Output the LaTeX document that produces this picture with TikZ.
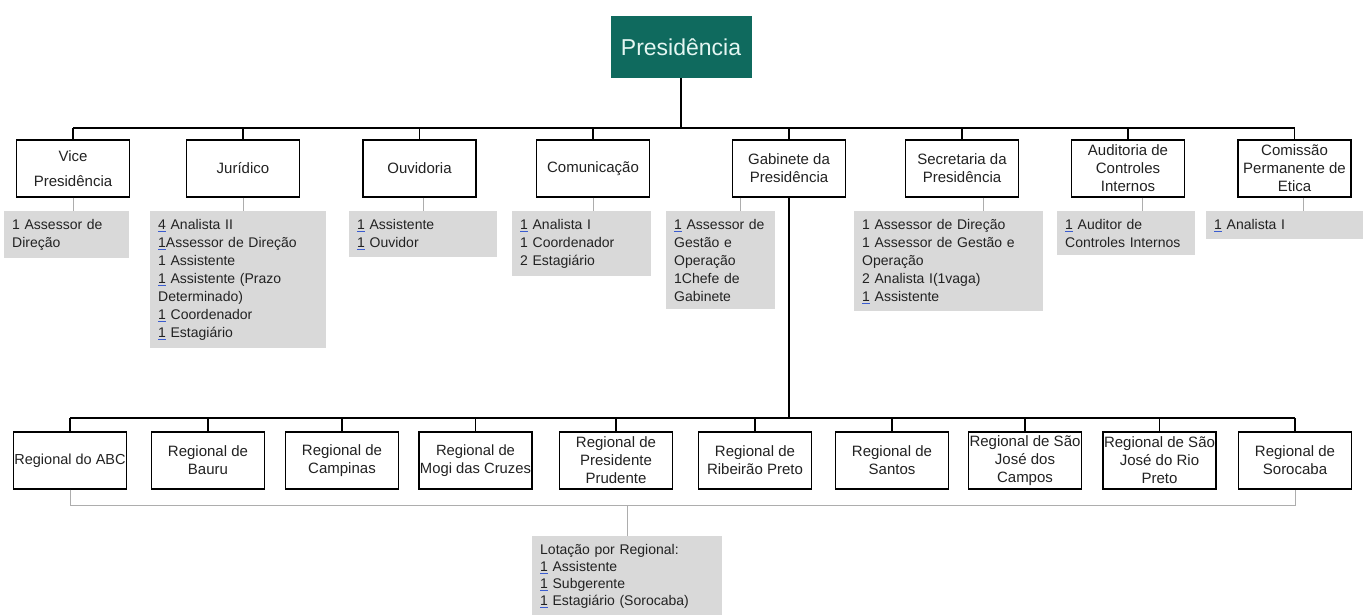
\documentclass[tikz,border=0pt]{standalone}
\usepackage{fontspec}
\setmainfont{Liberation Sans}
\usepackage{xcolor}
\usetikzlibrary{calc}
\definecolor{presteal}{HTML}{0F6A5E}
\definecolor{prestext}{HTML}{E4F6F2}
\definecolor{notegray}{HTML}{D9D9D9}
\definecolor{linegray}{HTML}{ADADAD}
\definecolor{inkdark}{HTML}{222222}
\definecolor{markblue}{HTML}{3A5CD0}
\newcommand{\flagged}[1]{\textcolor{markblue}{\underline{\textcolor{inkdark}{#1}}}}

\tikzset{
  unitbox/.style={draw=black,line width=1.4pt,fill=white,minimum width=113pt,minimum height=57pt,
    inner sep=1pt,align=center,text=inkdark,font=\fontsize{15}{18}\selectfont},
  notebox/.style={fill=notegray,anchor=north west,inner xsep=8pt,inner ysep=8pt,align=left,
    text=inkdark,font=\fontsize{14}{18}\selectfont},
  busline/.style={draw=black,line width=1.6pt},
  noteline/.style={draw=linegray,line width=0.9pt},
}

\begin{document}
\begin{tikzpicture}[x=1pt,y=-1pt]
  \useasboundingbox[fill=white] (0,0) rectangle (1363,615);

  \node[fill=presteal,minimum width=141pt,minimum height=62pt,text=prestext,
        font=\fontsize{23}{26}\selectfont] (pres) at (681,47) {Presidência};

  \coordinate (topbus) at (0,128);
  \coordinate (lowbus) at (0,418);
  \coordinate (graybus) at (0,505);

  % first level
  \node[unitbox] (vice)  at (73,168.5)    {Vice\\[7pt]Presidência};
  \node[unitbox] (jur)   at (243,168.5)   {Jurídico};
  \node[unitbox] (ouv)   at (419.5,168.5) {Ouvidoria};
  \node[unitbox] (com)   at (593,168.5)   {Comunicação};
  \node[unitbox] (gab)   at (789,168.5)   {Gabinete da\\Presidência};
  \node[unitbox] (sec)   at (962,168.5)   {Secretaria da\\Presidência};
  \node[unitbox] (aud)   at (1128,168.5)  {Auditoria de\\Controles\\Internos};
  \node[unitbox] (comis) at (1294.5,168.5){Comissão\\Permanente de\\Etica};

  % staff notes
  \node[notebox,text width=109pt] (vice-note) at (4,211)
    {1 Assessor de\\Direção};
  \node[notebox,text width=160pt] (jur-note) at (150,211)
    {\flagged{4} Analista II\\\flagged{1}Assessor de Direção\\1 Assistente\\
     \flagged{1} Assistente (Prazo\\Determinado)\\\flagged{1} Coordenador\\\flagged{1} Estagiário};
  \node[notebox,text width=132pt] (ouv-note) at (349,211)
    {\flagged{1} Assistente\\\flagged{1} Ouvidor};
  \node[notebox,text width=123pt] (com-note) at (512,211)
    {\flagged{1} Analista I\\1 Coordenador\\2 Estagiário};
  \node[notebox,text width=93pt] (gab-note) at (666,211)
    {\flagged{1} Assessor de\\Gestão e\\Operação\\1Chefe de\\Gabinete};
  \node[notebox,text width=173pt] (sec-note) at (854,211)
    {1 Assessor de Direção\\1 Assessor de Gestão e\\Operação\\2 Analista I(1vaga)\\\flagged{1} Assistente};
  \node[notebox,text width=122pt] (aud-note) at (1057,211)
    {\flagged{1} Auditor de\\Controles Internos};
  \node[notebox,text width=141pt] (comis-note) at (1206,211)
    {\flagged{1} Analista I};

  % regionals
  \node[unitbox,font=\fontsize{14.5}{18}\selectfont] (abc) at (70,460.5) {Regional do ABC};
  \node[unitbox] (bauru)  at (208,460.5)   {Regional de\\Bauru};
  \node[unitbox] (camp)   at (342,460.5)   {Regional de\\Campinas};
  \node[unitbox,font=\fontsize{14.8}{18}\selectfont] (mogi) at (475.5,460.5) {Regional de\\Mogi das Cruzes};
  \node[unitbox] (prud)   at (616,460.5)   {Regional de\\Presidente\\Prudente};
  \node[unitbox] (ribp)   at (755,460.5)   {Regional de\\Ribeirão Preto};
  \node[unitbox] (santos) at (892,460.5)   {Regional de\\Santos};
  \node[unitbox] (sjc)    at (1025,460.5)  {Regional de São\\José dos\\Campos};
  \node[unitbox] (sjrp)   at (1159.5,460.5){Regional de São\\José do Rio\\Preto};
  \node[unitbox] (soro)   at (1295,460.5)  {Regional de\\Sorocaba};

  \node[notebox,text width=174pt,font=\fontsize{14}{17}\selectfont] (reg-note) at (532,536)
    {Lotação por Regional:\\\flagged{1} Assistente\\\flagged{1} Subgerente\\\flagged{1} Estagiário (Sorocaba)};

  % connectors
  \draw[busline] (pres.south) -- (pres.south |- topbus);
  \draw[busline] (vice.north |- topbus) -- (comis.north |- topbus);
  \foreach \u in {vice,jur,ouv,com,gab,sec,aud,comis}
    \draw[busline] (\u.north) -- (\u.north |- topbus);
  \foreach \u/\s in {vice/0,jur/0,ouv/4,com/0,gab/-49,sec/21,aud/14,comis/9}
    \draw[noteline] ([xshift=\s pt]\u.south) -- ([xshift=\s pt]\u.south |- \u-note.north);

  \draw[busline] (gab.south) -- (gab.south |- lowbus);
  \draw[busline] (abc.north |- lowbus) -- (soro.north |- lowbus);
  \foreach \r in {abc,bauru,camp,mogi,prud,ribp,santos,sjc,sjrp,soro}
    \draw[busline] (\r.north) -- (\r.north |- lowbus);

  \draw[noteline] (abc.south) -- (abc.south |- graybus) -- (soro.south |- graybus) -- (soro.south);
  \draw[noteline] (reg-note.north) -- (reg-note.north |- graybus);
\end{tikzpicture}
\end{document}
